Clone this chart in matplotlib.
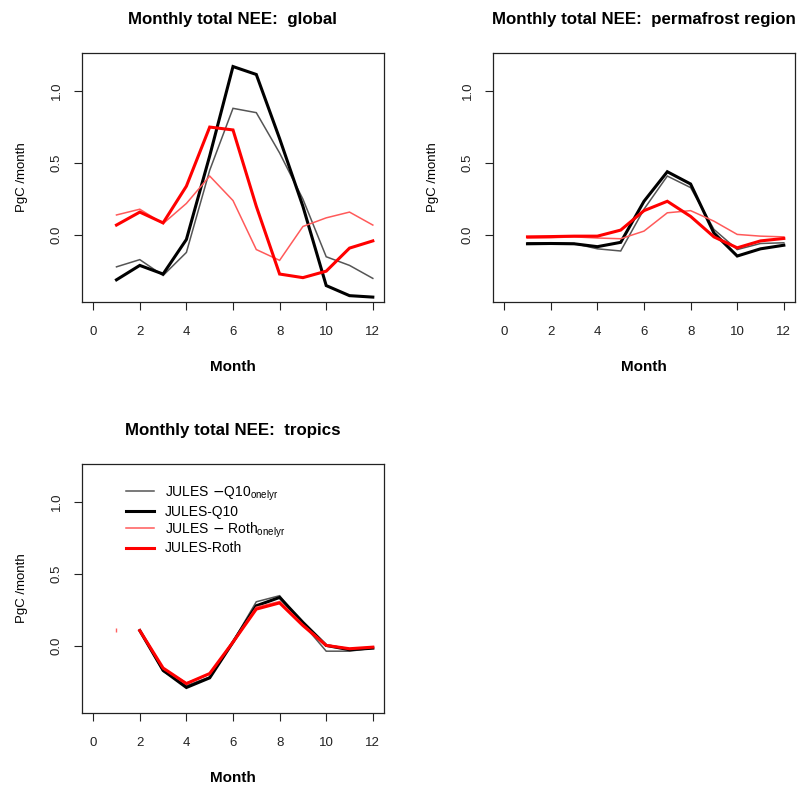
import matplotlib
matplotlib.use("Agg")
import matplotlib.pyplot as plt
import numpy as np

plt.rcParams['font.family'] = ['Liberation Sans', 'DejaVu Sans']

months = np.arange(1, 13)

# global
glob_q10_onelyr = [-0.22, -0.17, -0.28, -0.12, 0.45, 0.88, 0.85, 0.57, 0.25, -0.15, -0.21, -0.30]
glob_q10 = [-0.31, -0.21, -0.27, -0.03, 0.55, 1.17, 1.115, 0.67, 0.20, -0.35, -0.42, -0.43]
glob_roth_onelyr = [0.14, 0.18, 0.08, 0.22, 0.41, 0.24, -0.10, -0.175, 0.06, 0.12, 0.16, 0.07]
glob_roth = [0.07, 0.16, 0.085, 0.34, 0.75, 0.73, 0.20, -0.27, -0.295, -0.25, -0.09, -0.04]

# permafrost region
perm_q10_onelyr = [-0.053, -0.053, -0.058, -0.095, -0.11, 0.18, 0.41, 0.33, 0.04, -0.10, -0.058, -0.053]
perm_q10 = [-0.06, -0.058, -0.06, -0.08, -0.05, 0.235, 0.44, 0.355, 0.015, -0.145, -0.095, -0.07]
perm_roth_onelyr = [-0.02, -0.018, -0.012, -0.02, -0.025, 0.028, 0.155, 0.17, 0.097, 0.005, -0.007, -0.012]
perm_roth = [-0.012, -0.01, -0.007, -0.007, 0.035, 0.17, 0.235, 0.13, -0.012, -0.088, -0.04, -0.023]

# tropics (month 1 missing in the lines, a lone point remains)
trop_q10_onelyr = [np.nan, 0.108, -0.175, -0.275, -0.214, 0.032, 0.308, 0.35, 0.155, -0.035, -0.035, -0.014]
trop_q10 = [np.nan, 0.108, -0.168, -0.287, -0.22, 0.028, 0.28, 0.338, 0.165, 0.005, -0.025, -0.014]
trop_roth_onelyr = [np.nan, 0.108, -0.156, -0.255, -0.195, 0.032, 0.27, 0.31, 0.15, 0.01, -0.018, -0.007]
trop_roth = [np.nan, 0.108, -0.152, -0.26, -0.19, 0.028, 0.257, 0.30, 0.143, 0.005, -0.018, -0.007]
trop_lone_month = [1]
trop_lone_value = [0.11]

labels = [r"JULES $-$Q10$_{\mathregular{onelyr}}$", "JULES-Q10",
          r"JULES $-$ Roth$_{\mathregular{onelyr}}$", "JULES-Roth"]
styles = [dict(color="#555555", lw=1.1),
          dict(color="black", lw=2.2),
          dict(color="#ff5a5a", lw=1.1),
          dict(color="#ff0000", lw=2.2)]

W, H = 798, 786
fig = plt.figure(figsize=(W / 100, H / 100), dpi=100)

def make_ax(x0, y0, x1, y1):
    return fig.add_axes([x0 / W, 1 - y1 / H, (x1 - x0) / W, (y1 - y0) / H])

def style_ax(ax, title):
    ax.set_xlim(-0.48, 12.48)
    ax.set_ylim(-0.464, 1.264)
    ax.set_xticks(np.arange(0, 13, 2))
    ax.set_yticks([0.0, 0.5, 1.0])
    ax.set_yticklabels(["0.0", "0.5", "1.0"], rotation=90, va="center")
    ax.tick_params(direction="out", length=6, width=0.8, labelsize=9.5, colors="#222222")
    ax.tick_params(axis="x", pad=11)
    ax.tick_params(axis="y", pad=8)
    for s in ax.spines.values():
        s.set_linewidth(0.9)
        s.set_color("#222222")
    ax.set_title(title, fontsize=12.2, fontweight="bold", pad=21)
    ax.set_xlabel("Month", fontsize=11, fontweight="bold", labelpad=16)
    ax.set_ylabel("PgC /month", fontsize=9.5, labelpad=16)

panels = [
    ((82, 53, 384, 302), "Monthly total NEE:  global",
     [glob_q10_onelyr, glob_q10, glob_roth_onelyr, glob_roth]),
    ((493, 53, 795, 302), "Monthly total NEE:  permafrost region",
     [perm_q10_onelyr, perm_q10, perm_roth_onelyr, perm_roth]),
    ((82, 464, 384, 713), "Monthly total NEE:  tropics",
     [trop_q10_onelyr, trop_q10, trop_roth_onelyr, trop_roth]),
]

axes = []
for box, title, series in panels:
    ax = make_ax(*box)
    for vals, lab, st in zip(series, labels, styles):
        ax.plot(months, vals, label=lab, solid_joinstyle="miter", **st)
    style_ax(ax, title)
    axes.append(ax)

trop = axes[2]
trop.plot(trop_lone_month, trop_lone_value, marker="|", ms=3, color="#ff6060", ls="none")
trop.legend(loc="upper left", bbox_to_anchor=(0.145, 0.918), frameon=False, fontsize=10,
            handlelength=2.0, handletextpad=0.8, labelspacing=0.13, borderaxespad=0,
            borderpad=0)

fig.savefig("out.png", dpi=100)
